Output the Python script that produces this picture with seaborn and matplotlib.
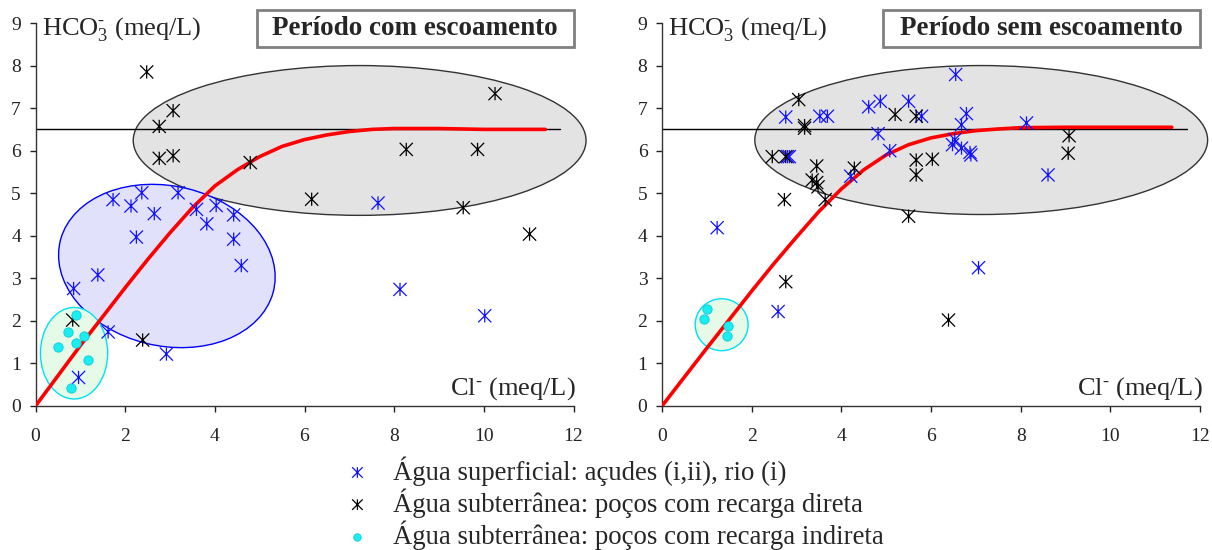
import numpy as np
import matplotlib
matplotlib.use('Agg')
import matplotlib.pyplot as plt
import seaborn as sns
from matplotlib.patches import Ellipse, Rectangle
from matplotlib.path import Path

# Cl- (x) e HCO3- (y) em meq/L

# Período com escoamento
com_sup_x = [1.73, 2.13, 2.37, 2.65, 3.18, 3.59, 4.03, 4.42, 3.82, 2.25, 4.42, 4.59,
             1.39, 0.85, 1.62, 2.92, 0.96, 7.64, 8.13, 10.02]
com_sup_y = [4.85, 4.70, 5.01, 4.52, 5.01, 4.62, 4.71, 4.49, 4.28, 3.97, 3.92, 3.30,
             3.08, 2.76, 1.74, 1.22, 0.67, 4.77, 2.74, 2.12]
com_dir_x = [2.48, 3.07, 2.76, 2.76, 3.07, 4.79, 6.16, 8.27, 9.86, 10.25, 9.54, 11.02,
             2.39, 0.83]
com_dir_y = [7.85, 6.94, 6.57, 5.82, 5.88, 5.72, 4.86, 6.03, 6.03, 7.34, 4.66, 4.04,
             1.55, 2.02]
com_ind_x = [0.90, 0.73, 0.51, 0.90, 1.08, 1.17, 0.79]
com_ind_y = [2.14, 1.73, 1.39, 1.47, 1.64, 1.09, 0.42]

# Período sem escoamento
sem_sup_x = [2.76, 2.80, 2.84, 3.52, 3.69, 4.61, 4.87, 5.50, 5.79, 4.82, 5.08, 4.21,
             6.55, 6.79, 6.68, 6.53, 6.48, 6.68, 6.87, 6.89, 8.13, 8.61, 1.23, 2.59, 7.06]
sem_sup_y = [6.79, 5.86, 5.86, 6.81, 6.81, 7.03, 7.16, 7.16, 6.81, 6.40, 6.00, 5.40,
             7.79, 6.87, 6.61, 6.26, 6.14, 6.06, 5.96, 5.90, 6.65, 5.43, 4.19, 2.22, 3.25]
sem_dir_x = [3.05, 3.18, 3.18, 2.46, 2.76, 2.73, 3.45, 3.35, 3.48, 3.45, 3.64, 4.29,
             5.20, 5.67, 5.67, 5.67, 6.03, 5.50, 9.08, 9.06, 2.76, 6.39]
sem_dir_y = [7.20, 6.59, 6.53, 5.86, 5.86, 4.85, 5.64, 5.31, 5.15, 5.25, 4.85, 5.59,
             6.85, 6.81, 5.78, 5.43, 5.80, 4.46, 6.35, 5.94, 2.92, 2.02]
sem_ind_x = [1.01, 0.93, 1.47, 1.46]
sem_ind_y = [2.28, 2.04, 1.88, 1.64]

# Curvas ajustadas (vermelho)
curva_x = [0, 0.5, 1, 1.5, 2, 2.5, 3, 3.5, 4, 4.5, 5, 5.5, 6, 6.5, 7, 7.5, 8, 9, 10, 11.37]
com_curva_y = [0, 0.71, 1.42, 2.10, 2.78, 3.44, 4.07, 4.66, 5.17, 5.55, 5.86, 6.10,
               6.26, 6.37, 6.45, 6.50, 6.52, 6.52, 6.50, 6.50]
sem_curva_y = [0, 0.68, 1.36, 2.03, 2.70, 3.35, 3.97, 4.57, 5.10, 5.55, 5.90, 6.14,
               6.30, 6.40, 6.47, 6.51, 6.54, 6.55, 6.55, 6.55]

# Linha de referência
ref_nivel = 6.5
ref_xmax = 11.7

# Elipses: (x centro, y centro, largura, altura, ângulo, cor, borda)
com_elipses = [(7.23, 6.24, 10.10, 3.52, 0, '#e3e3e3', '#333333'),
               (2.93, 3.29, 4.90, 3.75, -15, '#e1e1fb', '#0000ff'),
               (0.86, 1.24, 1.50, 2.15, 0, '#e6fae8', '#00e0f0')]
sem_elipses = [(7.12, 6.25, 10.10, 3.50, 0, '#e3e3e3', '#333333'),
               (1.33, 1.91, 1.18, 1.22, 0, '#e6fae8', '#00e0f0')]

titulos = ['Período com escoamento', 'Período sem escoamento']
legendas = ['Água superficial: açudes (i,ii), rio (i)',
            'Água subterrânea: poços com recarga direta',
            'Água subterrânea: poços com recarga indireta']

sns.set_style('white')
plt.rcParams['font.family'] = ['Liberation Serif', 'DejaVu Serif']
plt.rcParams['mathtext.fontset'] = 'custom'
plt.rcParams['mathtext.rm'] = 'Liberation Serif'
plt.rcParams['mathtext.it'] = 'Liberation Serif:italic'
plt.rcParams['mathtext.default'] = 'rm'

# Marcador estrela do Excel (X com traço vertical)
estrela = Path([(-1, -1), (1, 1), (-1, 1), (1, -1), (0, -1), (0, 1)],
               [Path.MOVETO, Path.LINETO, Path.MOVETO, Path.LINETO, Path.MOVETO, Path.LINETO])

fig = plt.figure(figsize=(12.12, 5.5), dpi=100)
ax1 = fig.add_axes([35.5 / 1212, 1 - 406 / 550, 538 / 1212, 383 / 550])
ax2 = fig.add_axes([662 / 1212, 1 - 406 / 550, 538 / 1212, 383 / 550])

paineis = [(ax1, com_sup_x, com_sup_y, com_dir_x, com_dir_y, com_ind_x, com_ind_y,
            com_curva_y, com_elipses, titulos[0]),
           (ax2, sem_sup_x, sem_sup_y, sem_dir_x, sem_dir_y, sem_ind_x, sem_ind_y,
            sem_curva_y, sem_elipses, titulos[1])]

for ax, sx, sy, dx, dy, ix, iy, cy, elipses, titulo in paineis:
    for cx0, cy0, w, h, ang, fc, ec in elipses:
        ax.add_patch(Ellipse((cx0, cy0), w, h, angle=ang, fc=fc, ec=ec, lw=1,
                             zorder=1, clip_on=False))
    ax.plot([0, ref_xmax], [ref_nivel, ref_nivel], color='black', lw=1, zorder=2)
    sns.lineplot(x=curva_x, y=cy, color='red', lw=2.6, sort=False, estimator=None,
                 ax=ax, zorder=3)
    sns.scatterplot(x=sx, y=sy, marker=estrela, s=90, facecolor='none',
                    edgecolor='#1212ff', linewidth=0.9, ax=ax, zorder=4,
                    label=legendas[0])
    sns.scatterplot(x=dx, y=dy, marker=estrela, s=90, facecolor='none',
                    edgecolor='black', linewidth=0.9, ax=ax, zorder=4,
                    label=legendas[1])
    sns.scatterplot(x=ix, y=iy, marker='o', s=45, facecolor='#19eef0',
                    edgecolor='#10c8d8', linewidth=0.6, ax=ax, zorder=4,
                    label=legendas[2])

    ax.set_xlim(0, 12)
    ax.set_ylim(0, 9)
    ax.set_xticks(np.arange(0, 13, 2))
    ax.set_yticks(np.arange(0, 10, 1))
    ax.tick_params(axis='both', direction='out', length=4.5, width=1, labelsize=14,
                   colors='#222222', left=True, bottom=True)
    ax.tick_params(axis='x', pad=11)
    ax.tick_params(axis='y', pad=6)
    for s in ['top', 'right']:
        ax.spines[s].set_visible(False)
    for s in ['left', 'bottom']:
        ax.spines[s].set_color('#333333')
        ax.spines[s].set_linewidth(1)

    ax.text(0.14, 8.86, 'HCO$_3^{‐}$ (meq/L)', fontsize=19, ha='left', va='center')
    ax.text(12.05, 0.42, 'Cl$^{‐}$ (meq/L)', fontsize=19, ha='right', va='center',
            clip_on=False)
    ax.add_patch(Rectangle((4.93, 8.44), 7.07, 0.86, fc='white', ec='#808080', lw=2,
                           clip_on=False, zorder=5))
    ax.text(8.47, 8.87, titulo, fontsize=19.5, fontweight='bold', ha='center',
            va='center', zorder=6)
    ax.set_xlabel('')
    ax.set_ylabel('')
    if ax.get_legend() is not None:
        ax.get_legend().remove()

h, l = ax1.get_legend_handles_labels()
fig.legend(h[-3:], l[-3:], loc='upper left', bbox_to_anchor=(344 / 1212, 1 - 456 / 550),
           frameon=False, fontsize=19.3, handlelength=1.0, handletextpad=0.84,
           labelspacing=0.1, borderpad=0, borderaxespad=0, markerscale=0.8)

fig.savefig('out.png', dpi=100)
